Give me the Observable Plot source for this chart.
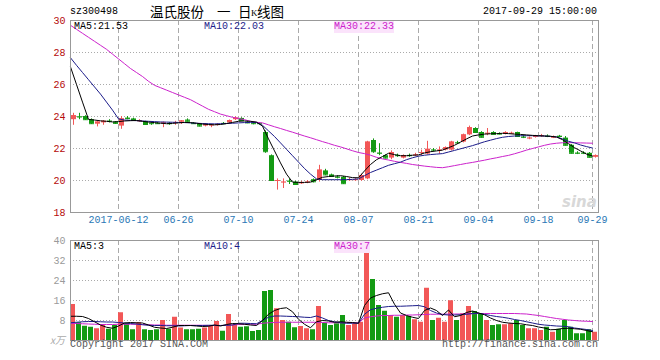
<!DOCTYPE html>
<html><head><meta charset="utf-8">
<script src="https://cdn.jsdelivr.net/npm/d3@7"></script>
<script src="https://cdn.jsdelivr.net/npm/@observablehq/plot@0.6"></script>
<style>
body{margin:0;background:#fff;}
#wrap{position:relative;width:660px;height:360px;overflow:hidden;font-family:"Liberation Mono","DejaVu Sans Mono",monospace;font-size:10px;}
.t{position:absolute;white-space:pre;line-height:12px;}
.cj{position:absolute;white-space:pre;font-family:'Noto Sans CJK SC';font-size:13.5px;line-height:16px;top:3px;color:#000}
#main,#vol{position:absolute;left:0;}
#main{top:0}
#vol{top:230px}
</style></head><body><div id="wrap">
<div id="main"></div><div id="vol"></div>
<div class="t" style="left:70px;top:6px;color:#000">sz300498</div>
<div class="cj" style="left:150px">温氏股份</div>
<div class="cj" style="left:217px">一</div>
<div class="cj" style="left:238px">日</div>
<div class="cj" style="left:251px;font-family:'Liberation Serif';font-size:9px;top:5px">K</div>
<div class="cj" style="left:257px">线图</div>
<div class="t" style="left:483px;top:6px;color:#000">2017-09-29 15:00:00</div>
<div class="t" style="left:74px;top:21px;color:#000">MA5:21.53</div>
<div class="t" style="left:204px;top:21px;color:#1c1c8a">MA10:22.03</div>
<div class="t" style="left:334px;top:21px;color:#cc22cc;background:#fbe3fb">MA30:22.33</div>
<div class="t" style="left:74px;top:241px;color:#000">MA5:3</div>
<div class="t" style="left:204px;top:241px;color:#1c1c8a">MA10:4</div>
<div class="t" style="left:334px;top:241px;color:#cc22cc;background:#fbe3fb">MA30:7</div>
<div class="t" style="left:50px;top:334px;color:#aaa;font-style:italic;font-family:'Noto Sans CJK SC';font-size:10px">x万</div>
<div class="t" style="left:70px;top:339px;color:#555">Copyright 2017 SINA.COM</div>
<div class="t" style="left:442px;top:339px;color:#555">http://finance.sina.com.cn</div>
<div class="t" style="left:562px;top:193px;color:#d8d8d8;font-family:'DejaVu Sans';font-style:italic;font-weight:bold;font-size:15px;line-height:18px">sina</div>
</div>
<script>
const tickIdx = [8,18,28,38,48,58,68,78,87];
const tickLabels = ["2017-06-12","06-26","07-10","07-24","08-07","08-21","09-04","09-18","09-29"];
const priceTicks = [18,20,22,24,26,28,30];
const volTicks = [8,16,24,32,40];

const open = [23.80,24.00,24.00,23.80,23.52,23.60,23.72,23.65,23.40,23.90,
23.85,23.70,23.68,23.57,23.57,23.57,23.57,23.60,23.65,23.78,
23.57,23.50,23.40,23.44,23.48,23.57,23.60,23.80,23.88,23.65,
23.57,23.57,23.00,21.55,19.95,19.88,19.97,19.90,19.83,19.88,
20.05,20.00,20.60,20.35,20.22,20.20,20.03,20.03,20.00,20.10,
22.50,21.72,21.55,21.40,21.57,21.40,21.57,21.58,21.73,21.65,
21.92,21.88,21.90,21.90,22.37,22.40,22.85,23.25,23.00,22.93,
23.00,22.92,22.88,22.93,23.00,22.72,22.63,22.73,22.78,22.77,
22.68,22.77,22.65,22.20,21.72,21.72,21.70,21.45];
const close = [24.05,23.97,23.80,23.55,23.65,23.70,23.70,23.57,23.85,23.87,
23.75,23.73,23.50,23.55,23.55,23.60,23.55,23.62,23.72,23.70,
23.55,23.40,23.50,23.46,23.50,23.55,23.75,23.90,23.75,23.60,
23.55,23.55,21.80,20.00,20.00,19.90,19.95,19.75,19.85,19.90,
19.92,20.65,20.35,20.25,20.20,19.80,20.05,20.05,20.30,22.40,
21.80,21.70,21.40,21.75,21.55,21.55,21.55,21.60,21.75,21.95,
21.90,21.90,22.05,22.40,22.35,22.85,23.30,23.00,22.70,22.95,
22.88,22.90,23.00,22.95,22.75,22.70,22.65,22.75,22.80,22.75,
22.70,22.75,22.20,21.70,21.70,21.70,21.45,21.55];
const high = [24.20,24.20,24.05,23.85,23.70,23.75,23.80,23.68,24.00,24.00,
23.90,23.80,23.70,23.60,23.62,23.65,23.62,23.70,23.75,23.85,
23.62,23.52,23.55,23.50,23.55,23.62,23.78,23.98,23.92,23.70,
23.62,23.60,23.10,21.60,20.10,20.10,20.10,19.95,19.95,20.00,
20.10,20.95,20.70,20.40,20.30,20.25,20.15,20.12,20.40,22.45,
22.60,22.30,21.60,21.85,21.65,21.60,21.65,21.70,21.90,22.45,
22.00,22.10,22.10,22.45,22.45,22.90,23.40,23.30,23.05,23.25,
23.05,22.98,23.05,23.02,23.02,22.80,22.72,22.82,22.88,22.85,
22.78,22.82,22.75,22.25,21.80,21.80,21.75,21.60];
const low = [23.45,23.80,23.75,23.50,23.35,23.45,23.60,23.50,23.20,23.80,
23.70,23.65,23.45,23.45,23.50,23.30,23.45,23.45,23.50,23.65,
23.50,23.35,23.35,23.30,23.40,23.50,23.55,23.75,23.70,23.55,
23.48,23.50,21.70,19.95,19.40,19.50,19.75,19.70,19.75,19.80,
19.85,19.90,20.30,20.20,20.10,19.75,19.95,19.95,19.95,20.05,
21.70,21.55,21.35,21.30,21.45,21.35,21.45,21.50,21.55,21.60,
21.80,21.65,21.85,21.85,22.25,22.35,22.80,22.95,22.65,22.80,
22.85,22.85,22.85,22.88,22.70,22.62,22.55,22.65,22.70,22.68,
22.62,22.68,22.15,21.65,21.62,21.62,21.40,21.40];
const volume = [14.4,7.1,5.7,5.3,4.7,6.0,4.5,6.0,11.1,6.7,
4.3,7.1,4.3,4.0,4.3,8.0,4.5,9.3,5.0,4.3,
4.3,4.5,5.0,6.0,7.6,3.7,10.4,6.3,5.3,5.5,
3.6,4.0,19.6,20.0,12.7,8.0,7.3,5.1,5.6,4.7,
4.3,13.6,6.9,6.0,6.7,10.0,6.0,6.7,7.3,37.3,
24.4,14.0,11.7,10.0,9.3,10.0,9.6,8.3,7.3,20.9,
8.0,8.9,7.3,15.9,8.0,10.7,13.6,11.6,10.7,8.0,
6.0,6.3,6.3,6.7,8.0,6.0,4.7,4.7,4.0,5.3,
3.3,4.5,8.0,5.3,2.7,2.7,4.3,3.3];
const ma5 = [27.10,26.00,24.90,23.82,23.78,23.73,23.70,23.66,23.68,23.72,
23.74,23.75,23.70,23.65,23.62,23.58,23.55,23.57,23.60,23.63,
23.62,23.58,23.53,23.50,23.48,23.50,23.56,23.63,23.70,23.72,
23.70,23.65,23.40,22.60,21.85,21.10,20.40,19.90,19.88,19.88,
19.90,20.05,20.20,20.25,20.28,20.30,20.25,20.18,20.17,20.60,
21.00,21.30,21.50,21.70,21.62,21.55,21.55,21.58,21.60,21.72,
21.80,21.85,21.90,22.05,22.20,22.40,22.60,22.78,22.85,22.90,
22.92,22.93,22.95,22.93,22.90,22.88,22.85,22.82,22.80,22.78,
22.76,22.72,22.55,22.30,22.05,21.85,21.65,21.53];
const ma10 = [27.67,27.20,26.75,26.30,25.85,25.40,24.90,24.40,23.85,23.78,
23.76,23.74,23.72,23.70,23.68,23.66,23.65,23.64,23.63,23.62,
23.60,23.58,23.56,23.55,23.54,23.55,23.56,23.58,23.60,23.62,
23.63,23.62,23.45,23.10,22.75,22.35,21.95,21.55,21.15,20.75,
20.40,20.10,20.05,20.05,20.05,20.05,20.06,20.07,20.10,20.30,
20.50,20.65,20.80,20.95,21.05,21.15,21.30,21.42,21.52,21.58,
21.62,21.65,21.68,21.78,21.88,21.98,22.08,22.18,22.30,22.42,
22.52,22.62,22.70,22.75,22.78,22.80,22.80,22.80,22.79,22.78,
22.76,22.72,22.60,22.45,22.35,22.22,22.12,22.03];
const ma30 = [29.70,29.45,29.20,28.95,28.70,28.45,28.20,27.90,27.60,27.30,
27.00,26.75,26.50,26.20,25.95,25.80,25.65,25.50,25.35,25.20,
25.05,24.85,24.65,24.45,24.30,24.15,24.05,23.95,23.88,23.80,
23.70,23.64,23.60,23.48,23.36,23.25,23.13,23.02,22.90,22.78,
22.67,22.55,22.43,22.32,22.20,22.10,21.98,21.86,21.75,21.68,
21.58,21.45,21.35,21.28,21.20,21.13,21.07,21.00,20.95,20.90,
20.86,20.82,20.80,20.86,20.93,21.00,21.07,21.13,21.20,21.27,
21.35,21.42,21.50,21.57,21.67,21.78,21.90,22.00,22.10,22.20,
22.28,22.33,22.36,22.37,22.36,22.35,22.34,22.33];
const vma5 = [9.7,9.7,9.6,8.8,7.5,6.2,5.3,4.9,5.8,7.0,
7.2,7.1,7.0,6.2,5.3,5.0,4.8,5.3,6.0,6.0,
6.0,5.8,5.6,5.7,6.2,5.8,6.4,6.8,6.7,6.5,
6.2,6.0,8.0,10.5,12.0,12.8,13.1,11.5,8.5,6.5,
5.1,7.5,8.0,7.8,7.3,7.5,7.3,7.2,6.9,14.0,
17.0,18.0,18.7,19.1,14.5,11.0,10.0,9.3,8.8,12.0,
13.0,12.0,10.0,12.2,9.5,10.0,11.2,11.8,11.0,10.3,
9.0,8.0,7.3,7.0,6.8,6.7,6.3,6.0,5.4,5.0,
4.3,4.4,4.8,4.9,4.7,4.5,4.0,3.5];
const vma10 = [7.1,7.3,7.5,7.6,7.6,7.5,7.4,7.4,7.2,7.0,
6.8,6.6,6.3,6.1,6.0,6.0,5.9,5.9,5.8,5.9,
6.0,6.0,6.0,6.1,6.1,6.0,6.1,6.2,6.9,6.9,
6.8,6.7,8.0,9.3,9.8,9.8,9.7,9.6,9.5,9.3,
9.2,9.8,9.0,8.0,7.5,7.1,6.9,6.9,6.9,10.5,
12.3,12.9,13.3,13.6,13.7,13.7,13.8,13.9,14.0,13.5,
12.0,11.0,10.4,10.2,10.2,10.3,10.5,10.8,10.9,10.5,
10.0,9.6,9.3,8.9,8.4,8.0,7.5,7.0,6.5,6.2,
6.0,5.8,5.7,5.5,5.0,4.7,4.4,4.0];
const vma30 = [6.8,6.8,6.7,6.6,6.5,6.4,6.4,6.4,6.5,6.5,
6.5,6.5,6.4,6.3,6.2,6.2,6.1,6.1,6.1,6.1,
6.1,6.1,6.1,6.0,6.0,6.0,6.1,6.2,6.4,6.5,
6.5,6.5,6.9,7.1,7.2,7.3,7.3,7.3,7.3,7.3,
7.3,7.3,7.2,7.1,7.1,7.1,7.1,7.1,7.1,9.0,
9.5,9.8,10.0,10.0,10.1,10.1,10.2,10.2,10.3,10.4,
10.5,10.5,10.5,10.6,10.6,10.6,10.7,10.7,10.8,10.8,
10.8,10.8,10.8,10.8,10.8,10.7,10.6,10.3,10.0,9.6,
9.2,8.8,8.5,8.2,8.0,7.8,7.7,7.6];

const RED = "#f25757", GREEN = "#139a13";
const NAVY = "#1c1c8a", MAG = "#cc22cc", GRID = "#aaaaaa";
const idx = d3.range(open.length);
const candles = idx.map(i => ({i, o: open[i], c: close[i], h: high[i], l: low[i], v: volume[i], col: close[i] >= open[i] ? RED : GREEN}));
const font = {fontFamily: "'Liberation Mono','DejaVu Sans Mono',monospace", fontSize: "10px", background: "transparent", overflow: "visible"};

const main = Plot.plot({
  width: 660, height: 230, marginLeft: 70, marginRight: 62, marginTop: 20, marginBottom: 18,
  x: {domain: [0, 88], axis: null},
  y: {domain: [18, 30], axis: null},
  color: {type: "identity"},
  style: font,
  marks: [
    Plot.ruleY(priceTicks.slice(1, -1), {stroke: GRID, strokeDasharray: "1,2"}),
    Plot.ruleX(tickIdx, {stroke: GRID, strokeDasharray: "5,3"}),
    Plot.ruleX(candles, {x: d => d.i + 0.5, y1: "l", y2: "h", stroke: "col"}),
    Plot.rect(candles, {x1: d => d.i + 1/6, x2: d => d.i + 1, y1: d => Math.min(d.o, d.c), y2: d => Math.max(d.o, d.c), fill: "col"}),
    Plot.ruleY(candles, {y: "c", x1: d => d.i + 1/6, x2: d => d.i + 1, stroke: "col"}),
    Plot.line(idx, {x: d => d, y: d => ma30[d], stroke: MAG, strokeWidth: 1}),
    Plot.line(idx, {x: d => d, y: d => ma10[d], stroke: NAVY, strokeWidth: 1}),
    Plot.line(idx, {x: d => d, y: d => ma5[d], stroke: "#000", strokeWidth: 1}),
    Plot.frame({stroke: "#999"}),
    Plot.text(priceTicks, {y: d => d, frameAnchor: "left", dx: -5, textAnchor: "end", fill: "#b50a0a"}),
    Plot.text(tickIdx, {x: d => d, frameAnchor: "bottom", dy: 10, text: (d, i) => tickLabels[i], fill: "#2a78b6"})
  ]
});
document.getElementById("main").append(main);

const vol = Plot.plot({
  width: 660, height: 130, marginLeft: 70, marginRight: 62, marginTop: 10, marginBottom: 20,
  x: {domain: [0, 88], axis: null},
  y: {domain: [0, 40], axis: null},
  color: {type: "identity"},
  style: font,
  marks: [
    Plot.ruleY(volTicks.slice(0, -1), {stroke: GRID, strokeDasharray: "1,2"}),
    Plot.ruleX(tickIdx, {stroke: GRID, strokeDasharray: "5,3"}),
    Plot.rect(candles, {x1: d => d.i, x2: d => d.i + 5/6, y1: 0, y2: "v", fill: "col"}),
    Plot.line(idx, {x: d => d, y: d => vma30[d], stroke: MAG, strokeWidth: 1}),
    Plot.line(idx, {x: d => d, y: d => vma10[d], stroke: NAVY, strokeWidth: 1}),
    Plot.line(idx, {x: d => d, y: d => vma5[d], stroke: "#000", strokeWidth: 1}),
    Plot.frame({stroke: "#999"}),
    Plot.text(volTicks, {y: d => d, frameAnchor: "left", dx: -5, textAnchor: "end", fill: "#9a9a9a"})
  ]
});
document.getElementById("vol").append(vol);
</script>
</body></html>
